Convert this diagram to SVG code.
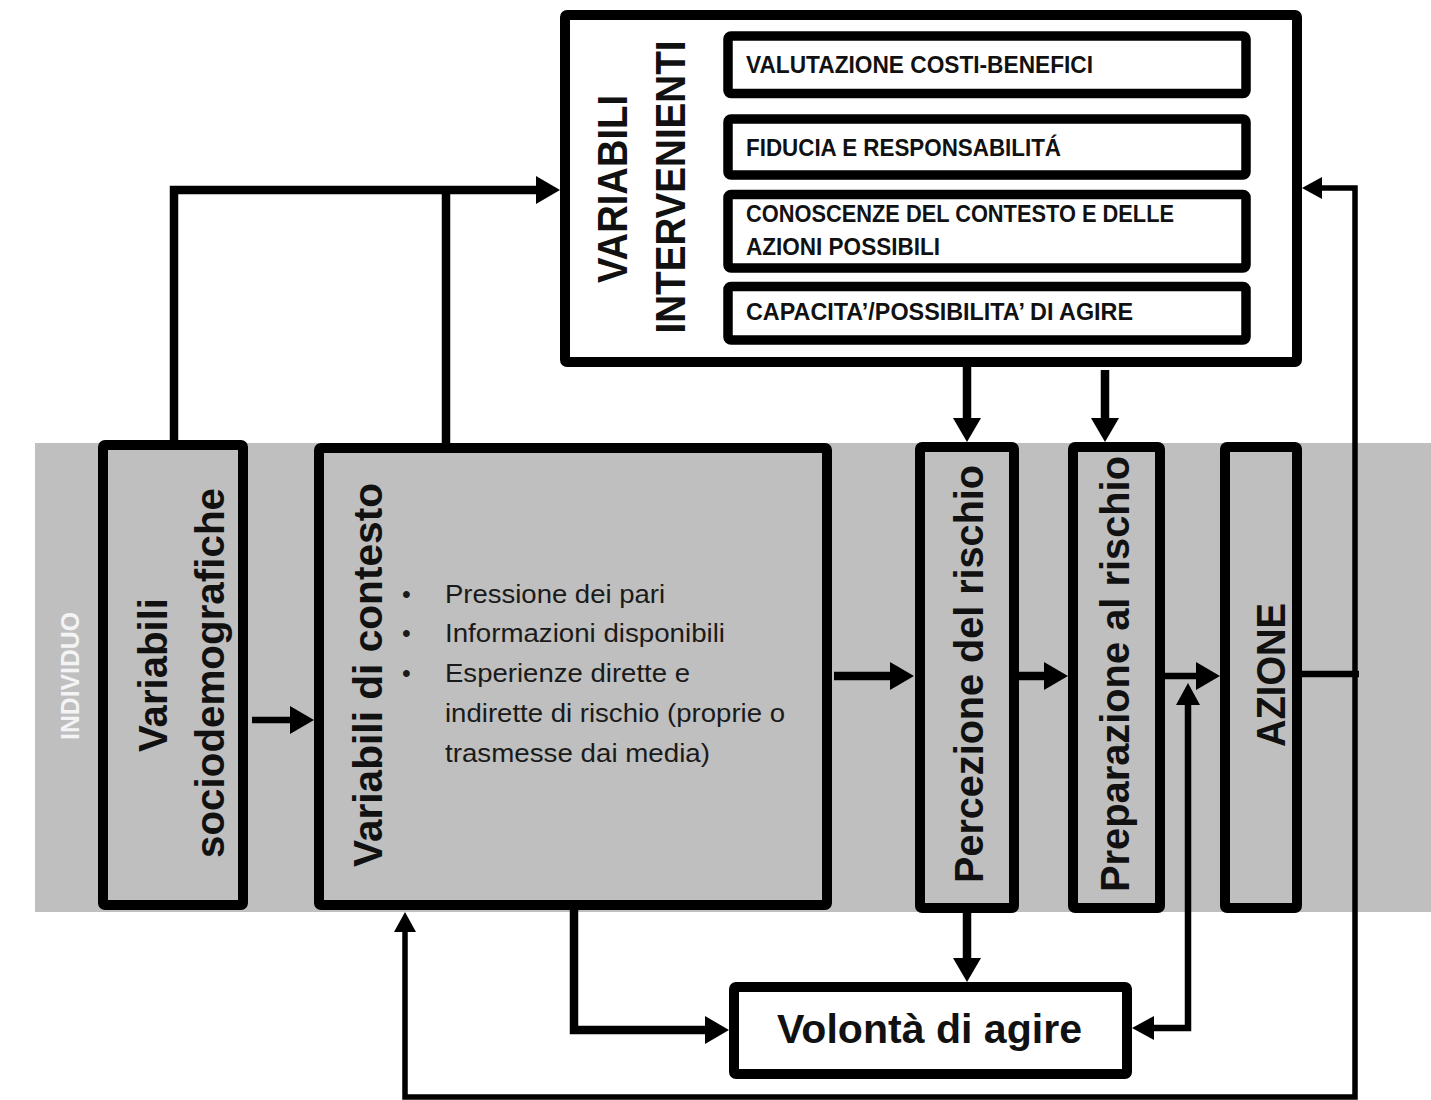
<svg xmlns="http://www.w3.org/2000/svg" width="1431" height="1100" viewBox="0 0 1431 1100">
<style>
.box{stroke:#000;stroke-width:10;stroke-linejoin:round}
.w{fill:#fff}
.g{fill:#bfbfbf}
.ib{fill:#fff;stroke:#000;stroke-width:9.5;stroke-linejoin:round}
.t{font-family:"Liberation Sans",Arial,sans-serif;font-weight:bold;fill:#111}
.cap{font-size:24px}
.big{font-size:40px}
.bl{font-family:"Liberation Sans",Arial,sans-serif;font-size:25px;fill:#1a1a1a}
.c{fill:none;stroke:#000;stroke-linejoin:miter}
.th{stroke-width:8.5}
.md{stroke-width:6.5}
.tn{stroke-width:5.5}
</style>
<defs>
<marker id="ah" markerUnits="userSpaceOnUse" markerWidth="24" markerHeight="28" refX="0" refY="14" orient="auto" overflow="visible"><path d="M0,0 L24,14 L0,28 z" fill="#000"/></marker>
<marker id="am" markerUnits="userSpaceOnUse" markerWidth="22" markerHeight="24" refX="0" refY="12" orient="auto-start-reverse" overflow="visible"><path d="M0,0 L22,12 L0,24 z" fill="#000"/></marker>
<marker id="at" markerUnits="userSpaceOnUse" markerWidth="20" markerHeight="22" refX="0" refY="11" orient="auto" overflow="visible"><path d="M0,0 L20,11 L0,22 z" fill="#000"/></marker>
</defs>
<rect x="0" y="0" width="1431" height="1100" fill="#fff"/>
<rect id="band" x="35" y="443" width="1396" height="469" fill="#bfbfbf"/>
<text class="t" font-size="25" fill="#f4f4f4" style="fill:#f4f4f4" transform="translate(79,676) rotate(-90)" text-anchor="middle" textLength="128" lengthAdjust="spacingAndGlyphs">INDIVIDUO</text>

<g id="connectors">
<path class="c th" d="M174,445 V190 H536" marker-end="url(#ah)"/>
<path class="c th" d="M446,448 V190"/>
<path class="c md" d="M252,720 H290" marker-end="url(#ah)"/>
<path class="c th" d="M834,676 H890" marker-end="url(#ah)"/>
<path class="c th" d="M1018,676 H1044" marker-end="url(#ah)"/>
<path class="c md" d="M1164,676 H1196" marker-end="url(#ah)"/>
<path class="c th" d="M967,366 V418" marker-end="url(#ah)"/>
<path class="c th" d="M1105,370 V418" marker-end="url(#ah)"/>
<path class="c th" d="M967,910 V958" marker-end="url(#ah)"/>
<path class="c th" d="M574,910 V1030 H705" marker-end="url(#ah)"/>
<path class="c md" d="M1154,1028 H1188 V705" marker-start="url(#am)" marker-end="url(#am)"/>
<path class="c md" d="M1302,674 H1359"/>
<path class="c tn" d="M1355,674 V188 H1322" marker-end="url(#at)"/>
<path class="c tn" d="M1355,674 V1097 H405 V932" marker-end="url(#at)"/>
</g>

<g id="variabili-intervenienti">
<rect class="box w" x="565" y="15" width="732" height="347" rx="2"/>
<text class="t" font-size="42" transform="translate(627,189) rotate(-90)" text-anchor="middle" textLength="188" lengthAdjust="spacingAndGlyphs">VARIABILI</text>
<text class="t" font-size="42" transform="translate(685,187) rotate(-90)" text-anchor="middle" textLength="293" lengthAdjust="spacingAndGlyphs">INTERVENIENTI</text>
</g>
<g id="valutazione">
<rect class="ib" x="728" y="36" width="518" height="57.5" rx="3"/>
<text class="t cap" x="746" y="73" textLength="347" lengthAdjust="spacingAndGlyphs">VALUTAZIONE COSTI-BENEFICI</text>
</g>
<g id="fiducia">
<rect class="ib" x="728" y="119" width="518" height="56" rx="3"/>
<text class="t cap" x="746" y="156" textLength="315" lengthAdjust="spacingAndGlyphs">FIDUCIA E RESPONSABILITÁ</text>
</g>
<g id="conoscenze">
<rect class="ib" x="728" y="194.5" width="518" height="73.5" rx="3"/>
<text class="t cap" x="746" y="222" textLength="428" lengthAdjust="spacingAndGlyphs">CONOSCENZE DEL CONTESTO E DELLE</text>
<text class="t cap" x="746" y="255" textLength="194" lengthAdjust="spacingAndGlyphs">AZIONI POSSIBILI</text>
</g>
<g id="capacita">
<rect class="ib" x="728" y="286.5" width="518" height="53.5" rx="3"/>
<text class="t cap" x="746" y="320" textLength="387" lengthAdjust="spacingAndGlyphs">CAPACITA’/POSSIBILITA’ DI AGIRE</text>
</g>

<g id="sociodemografiche">
<rect class="box g" x="103" y="445" width="140" height="460" rx="2"/>
<text class="t big" transform="translate(167,675) rotate(-90)" text-anchor="middle" textLength="154" lengthAdjust="spacingAndGlyphs">Variabili</text>
<text class="t big" transform="translate(224,673) rotate(-90)" text-anchor="middle" textLength="370" lengthAdjust="spacingAndGlyphs">sociodemografiche</text>
</g>

<g id="contesto">
<rect class="box g" x="319" y="448" width="508" height="457" rx="2"/>
<text class="t big" transform="translate(382,675) rotate(-90)" text-anchor="middle" textLength="384" lengthAdjust="spacingAndGlyphs">Variabili di contesto</text>
<text class="bl" x="402" y="603">•</text>
<text class="bl" x="402" y="642">•</text>
<text class="bl" x="402" y="682">•</text>
<text class="bl" x="445" y="603" textLength="220" lengthAdjust="spacingAndGlyphs">Pressione dei pari</text>
<text class="bl" x="445" y="642" textLength="280" lengthAdjust="spacingAndGlyphs">Informazioni disponibili</text>
<text class="bl" x="445" y="682" textLength="245" lengthAdjust="spacingAndGlyphs">Esperienze dirette e</text>
<text class="bl" x="445" y="722" textLength="340" lengthAdjust="spacingAndGlyphs">indirette di rischio (proprie o</text>
<text class="bl" x="445" y="762" textLength="265" lengthAdjust="spacingAndGlyphs">trasmesse dai media)</text>
</g>

<g id="percezione">
<rect class="box g" x="920" y="447" width="94" height="461" rx="2"/>
<text class="t big" transform="translate(983,674) rotate(-90)" text-anchor="middle" textLength="418" lengthAdjust="spacingAndGlyphs">Percezione del rischio</text>
</g>

<g id="preparazione">
<rect class="box g" x="1073" y="447" width="87" height="461" rx="2"/>
<text class="t big" transform="translate(1129,674) rotate(-90)" text-anchor="middle" textLength="436" lengthAdjust="spacingAndGlyphs">Preparazione al rischio</text>
</g>

<g id="azione">
<rect class="box g" x="1225" y="447" width="72" height="461" rx="2"/>
<text class="t big" transform="translate(1285,675) rotate(-90)" text-anchor="middle" textLength="144" lengthAdjust="spacingAndGlyphs">AZIONE</text>
</g>

<g id="volonta">
<rect class="box w" x="734" y="987" width="393" height="87" rx="2"/>
<text class="t big" x="777" y="1043" textLength="305" lengthAdjust="spacingAndGlyphs">Volontà di agire</text>
</g>
</svg>
